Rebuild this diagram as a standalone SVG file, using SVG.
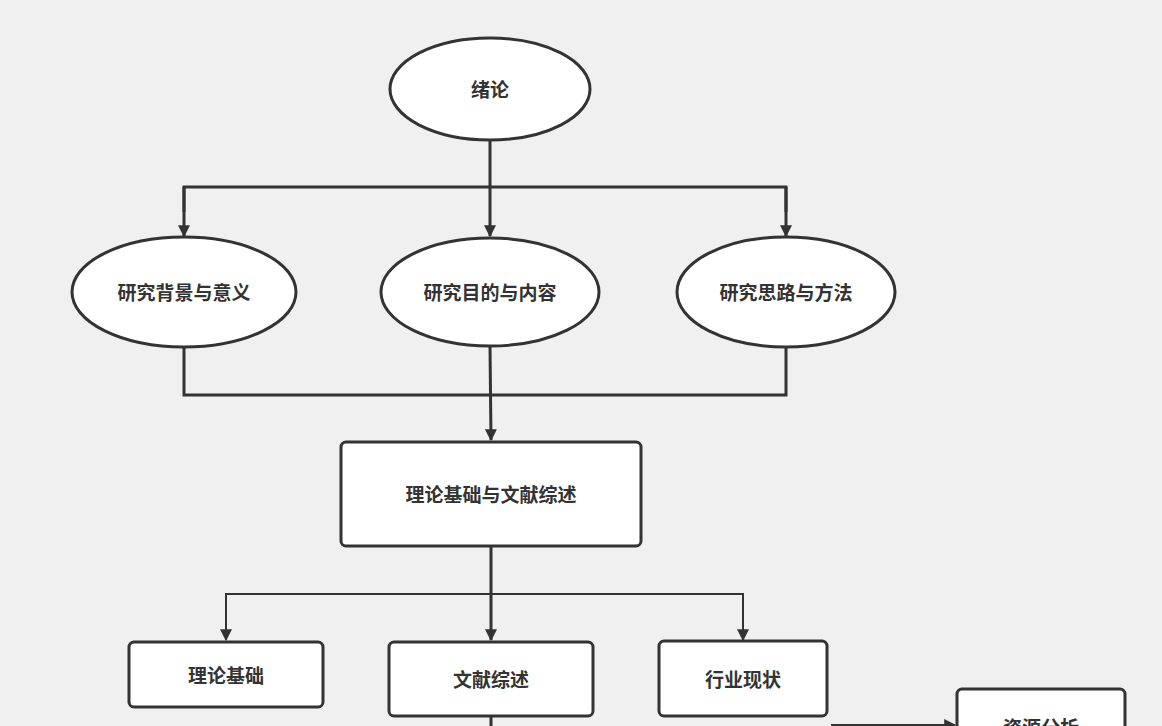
<svg xmlns="http://www.w3.org/2000/svg" width="1162" height="726" viewBox="0 0 1162 726">
<style>
.n{fill:#fff;stroke:#333;stroke-width:3}
.t{font-family:"Liberation Sans","Noto Sans CJK SC",sans-serif;font-weight:bold;font-size:19px;fill:#333;text-anchor:middle;dominant-baseline:central}
.c{fill:none;stroke:#333;stroke-width:3}
.c2{fill:none;stroke:#333;stroke-width:2}
</style>
<defs><marker id="a" viewBox="0 0 10 10" refX="9" refY="5" markerWidth="4" markerHeight="5" orient="auto" markerUnits="strokeWidth"><path d="M0,0L10,5L0,10z" fill="#333"/></marker>
<marker id="b" viewBox="0 0 10 10" refX="9" refY="5" markerWidth="6" markerHeight="6" orient="auto" markerUnits="strokeWidth"><path d="M0,0L10,5L0,10z" fill="#333"/></marker></defs>
<rect width="1162" height="726" fill="#f0f0f0"/>
<g id="connectors">
<path class="c" d="M490,141V236" marker-end="url(#a)"/>
<path class="c" d="M184,212V187H786V212"/>
<path class="c" d="M184,187V236" marker-end="url(#a)"/>
<path class="c" d="M786,187V236" marker-end="url(#a)"/>
<path class="c" d="M184,347V395H786V347"/>
<path class="c" d="M490,346L491,440" marker-end="url(#a)"/>
<path class="c" d="M491,547V640" marker-end="url(#a)"/>
<path class="c2" d="M226,640V594H743V640" marker-end="url(#b)"/>
<path class="c2" d="M226,594V640" marker-end="url(#b)"/>
<path class="c" d="M491,717V726"/>
<path class="c2" d="M831,725H955" marker-end="url(#b)"/>
</g>
<g id="n1"><ellipse class="n" cx="490" cy="89" rx="100" ry="51"/><text class="t" x="490" y="90">绪论</text></g>
<g id="n2"><ellipse class="n" cx="184" cy="292" rx="112" ry="55"/><text class="t" x="184" y="293">研究背景与意义</text></g>
<g id="n3"><ellipse class="n" cx="490" cy="292" rx="109" ry="54"/><text class="t" x="490" y="293">研究目的与内容</text></g>
<g id="n4"><ellipse class="n" cx="786" cy="292" rx="109" ry="55"/><text class="t" x="786" y="293">研究思路与方法</text></g>
<g id="n5"><rect class="n" x="341" y="442" width="300" height="104" rx="5"/><text class="t" x="491" y="495">理论基础与文献综述</text></g>
<g id="n6"><rect class="n" x="129" y="642" width="194" height="65" rx="5"/><text class="t" x="226" y="676">理论基础</text></g>
<g id="n7"><rect class="n" x="389" y="642" width="204" height="74" rx="5"/><text class="t" x="491" y="680">文献综述</text></g>
<g id="n8"><rect class="n" x="659" y="641" width="168" height="75" rx="5"/><text class="t" x="743" y="680">行业现状</text></g>
<g id="n9"><rect class="n" x="957" y="689" width="168" height="60" rx="5"/><text class="t" x="1041" y="728">资源分析</text></g>
</svg>
